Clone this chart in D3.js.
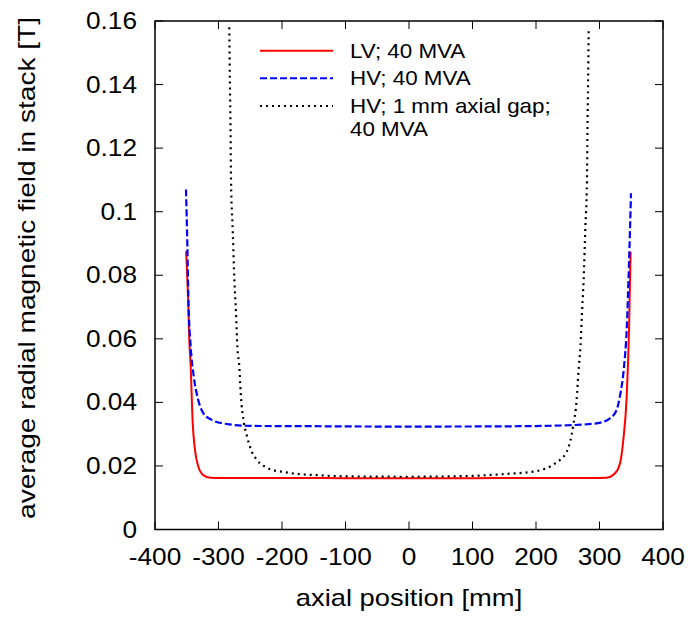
<html>
<head>
<meta charset="UTF-8">
<script src="https://cdn.jsdelivr.net/npm/d3@7"></script>
<style>
  body { margin: 0; background: #fff; }
  svg text { font-family: "Liberation Sans", Arial, Helvetica, sans-serif; fill: #000; }
</style>
</head>
<body>
<div id="chart"></div>
<script>

// axial position [mm] and field [T]
const lvX = [-351, -348, -346, -343.8, -340.6, -337, -331.8, -324, -313, -290, -250, -150, -50, 0, 50, 150, 250, 290, 311, 324.4, 332.3, 337.5, 342.8, 346.5, 349];
const lvY = [0.0876, 0.0733, 0.0596, 0.0512, 0.0334, 0.025, 0.0198, 0.0171, 0.0163, 0.0162, 0.0162, 0.0162, 0.0161, 0.0161, 0.0161, 0.0162, 0.0162, 0.0162, 0.0163, 0.0177, 0.0208, 0.0282, 0.0418, 0.0628, 0.0874];

const hvX = [-351.2, -349, -347.5, -343.8, -339.6, -331.8, -323.9, -310.7, -287, -250, -150, -50, 0, 50, 175, 250, 295.6, 316.5, 327, 332, 338.6, 342.8, 346.5, 349.6];
const hvY = [0.107, 0.089, 0.0733, 0.0575, 0.0491, 0.0407, 0.0366, 0.0345, 0.0332, 0.0326, 0.0325, 0.0324, 0.0324, 0.0324, 0.0325, 0.0328, 0.0334, 0.035, 0.0376, 0.0418, 0.0512, 0.0628, 0.0839, 0.1058];

const gapX = [-283, -282, -281, -280.3, -277.6, -275, -272.4, -270.3, -267.2, -265, -259.8, -255.6, -250.4, -247, -241.4, -234.6, -227, -217.8, -200.5, -177, -145.6, -93, 0, 85.5, 153.9, 201, 230, 248.4, 258.8, 264, 267, 270, 272.4, 275, 277.6, 280.3, 281, 282, 283];
const gapY = [0.158, 0.14, 0.125, 0.11, 0.0942, 0.0785, 0.068, 0.0575, 0.0512, 0.0429, 0.0334, 0.0297, 0.026, 0.0242, 0.0224, 0.0208, 0.0198, 0.0189, 0.0182, 0.0175, 0.0171, 0.0167, 0.0166, 0.0168, 0.0175, 0.0184, 0.0208, 0.0245, 0.0329, 0.0408, 0.05, 0.0575, 0.068, 0.0785, 0.0942, 0.11, 0.125, 0.14, 0.158];

const xTicks = [-400, -300, -200, -100, 0, 100, 200, 300, 400];
const yTicks = [0, 0.02, 0.04, 0.06, 0.08, 0.1, 0.12, 0.14, 0.16];

const seriesNames = ['LV; 40 MVA', 'HV; 40 MVA', 'HV; 1 mm axial gap;|40 MVA'];
const seriesColors = ['#ff0000', '#0000ff', '#000000'];
const seriesDash = [null, '7,3', '2,4'];

const W = 692, H = 618;
const L = 155, R = 663, T = 21, B = 529.5;

const x = d3.scaleLinear().domain([-400, 400]).range([L, R]);
const y = d3.scaleLinear().domain([0, 0.16]).range([B, T]);

const svg = d3.select('#chart').append('svg')
  .attr('width', W).attr('height', H);

svg.append('defs').append('clipPath').attr('id', 'plotclip')
  .append('rect').attr('x', L).attr('y', T).attr('width', R - L).attr('height', B - T);

// the original lettering is wider than Liberation Sans, so stretch it a bit
function label(px, py, txt, size, sx, anchor, rot) {
  const g = svg.append('g')
    .attr('transform', `translate(${px},${py})` + (rot ? ` rotate(${rot})` : '') + ` scale(${sx},1)`);
  g.append('text').attr('text-anchor', anchor || 'start')
    .style('font-size', size + 'px').text(txt);
}

// ticks, mirrored on all four sides, pointing inward
const tl = 8;
const tickG = svg.append('g').attr('stroke', '#000').attr('stroke-width', 1);
for (const t of xTicks) {
  tickG.append('line').attr('x1', x(t)).attr('x2', x(t)).attr('y1', B).attr('y2', B - tl);
  tickG.append('line').attr('x1', x(t)).attr('x2', x(t)).attr('y1', T).attr('y2', T + tl);
  label(x(t), B + 35, t, 23, 1.14, 'middle');
}
for (const t of yTicks) {
  tickG.append('line').attr('x1', L).attr('x2', L + tl).attr('y1', y(t)).attr('y2', y(t));
  tickG.append('line').attr('x1', R).attr('x2', R - tl).attr('y1', y(t)).attr('y2', y(t));
  label(137, y(t) + 8, t, 23, 1.14, 'end');
}

const line = d3.line().x(d => x(d[0])).y(d => y(d[1])).curve(d3.curveMonotoneX);
const data = [
  d3.zip(lvX, lvY),
  d3.zip(hvX, hvY),
  d3.zip(gapX, gapY)
];

const plot = svg.append('g').attr('clip-path', 'url(#plotclip)');
data.forEach((d, i) => {
  plot.append('path')
    .attr('d', line(d))
    .attr('fill', 'none')
    .attr('stroke', seriesColors[i])
    .attr('stroke-width', i == 0 ? 2 : 2.2)
    .attr('stroke-dasharray', seriesDash[i]);
});

// frame
svg.append('rect').attr('x', L).attr('y', T).attr('width', R - L).attr('height', B - T)
  .attr('fill', 'none').attr('stroke', '#000').attr('stroke-width', 1.5);

// legend
const legY = [50.7, 78.3, 106];
seriesNames.forEach((name, i) => {
  svg.append('line')
    .attr('x1', 260).attr('x2', 333).attr('y1', legY[i]).attr('y2', legY[i])
    .attr('stroke', seriesColors[i]).attr('stroke-width', 2)
    .attr('stroke-dasharray', seriesDash[i]);
  name.split('|').forEach((part, j) => {
    label(350, legY[i] + 7 + j * 22.5, part, 20, 1.12, 'start');
  });
});

// axis titles
label((L + R) / 2, 606, 'axial position [mm]', 23, 1.19, 'middle');
label(35, 268, 'average radial magnetic field in stack [T]', 23, 1.22, 'middle', -90);

</script>
</body>
</html>
